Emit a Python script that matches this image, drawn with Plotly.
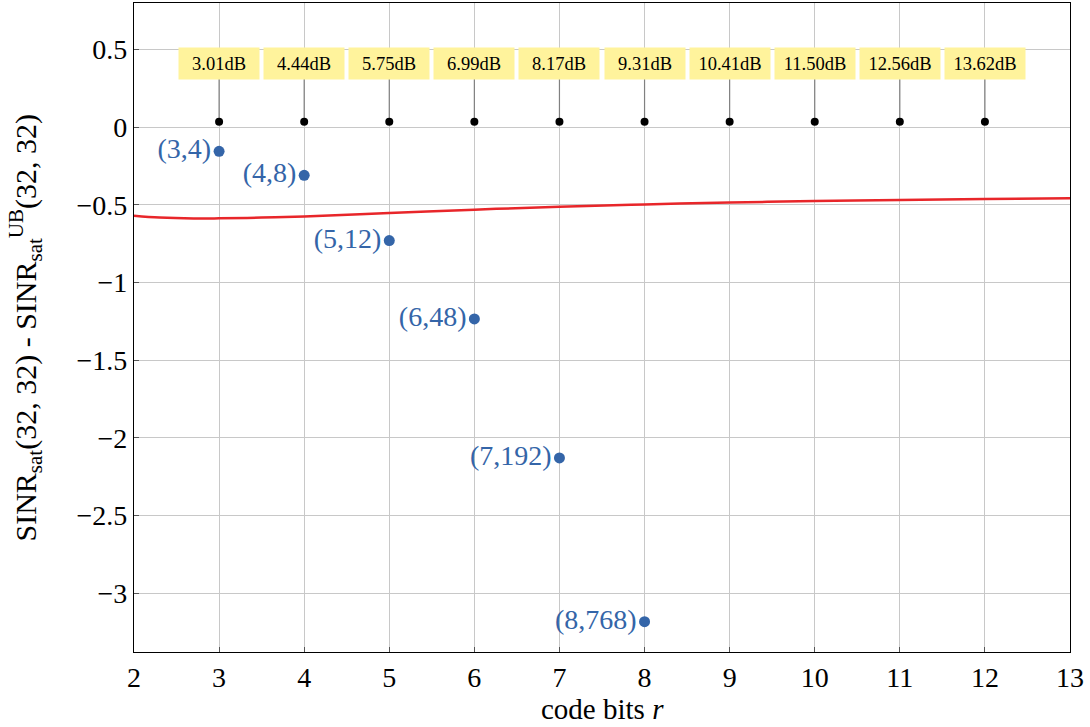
import plotly.graph_objects as go

# Data
pt_x = [3, 4, 5, 6, 7, 8]
pt_y = [-0.155, -0.31, -0.73, -1.235, -2.13, -3.185]
pt_labels = ["(3,4)", "(4,8)", "(5,12)", "(6,48)", "(7,192)", "(8,768)"]

curve_x = [2, 2.3, 2.7, 3, 3.5, 4, 5, 6, 7, 8, 9, 10, 11, 12, 13]
curve_y = [-0.570, -0.582, -0.588, -0.587, -0.582, -0.575, -0.553, -0.531, -0.512, -0.497, -0.485, -0.476, -0.469, -0.463, -0.458]

stem_x = [3, 4, 5, 6, 7, 8, 9, 10, 11, 12]
stem_labels = ["3.01dB", "4.44dB", "5.75dB", "6.99dB", "8.17dB", "9.31dB",
               "10.41dB", "11.50dB", "12.56dB", "13.62dB"]
stem_base = 0.035
stem_top = 0.41

y_tickvals = [0.5, 0, -0.5, -1, -1.5, -2, -2.5, -3]

x_title = "code bits <i>r</i>"
y_title = "SINR<sub>sat</sub>(32, 32) - SINR<sub>sat</sub><sup>UB</sup>(32, 32)"

FONT = "Liberation Serif"
BLUE = "#3465a8"

fig = go.Figure()

# stems
sx, sy = [], []
for x in stem_x:
    sx += [x, x, None]
    sy += [stem_base, stem_top, None]
fig.add_trace(go.Scatter(x=sx, y=sy, mode="lines",
                         line=dict(color="#808080", width=1.2),
                         showlegend=False, hoverinfo="skip"))
fig.add_trace(go.Scatter(x=stem_x, y=[stem_base] * len(stem_x), mode="markers",
                         marker=dict(color="black", size=8),
                         showlegend=False))

# red curve
fig.add_trace(go.Scatter(x=curve_x, y=curve_y, mode="lines",
                         line=dict(color="#e8262a", width=2.5, shape="spline"),
                         showlegend=False))

# blue points
fig.add_trace(go.Scatter(x=pt_x, y=pt_y, mode="markers+text",
                         marker=dict(color=BLUE, size=11),
                         text=pt_labels, textposition="middle left",
                         textfont=dict(family=FONT, size=28, color=BLUE),
                         showlegend=False))

for x, lab in zip(stem_x, stem_labels):
    fig.add_annotation(x=x, y=stem_top, text=lab, showarrow=False,
                       bgcolor="#fff39c", width=78, height=29,
                       font=dict(family=FONT, size=18.5, color="black"))

# axis titles
fig.add_annotation(x=0.5, y=0, xref="paper", yref="paper", text=x_title,
                   showarrow=False, yanchor="middle", yshift=-57,
                   font=dict(family=FONT, size=29, color="black"))
fig.add_annotation(x=0, y=0.5, xref="paper", yref="paper", text=y_title,
                   showarrow=False, textangle=-90, xanchor="center", xshift=-108,
                   font=dict(family=FONT, size=30, color="black"))

axis_common = dict(showgrid=True, gridcolor="#c8c8c8", gridwidth=1,
                   showline=True, linecolor="black", linewidth=1.2, mirror=True,
                   ticks="inside", ticklen=5, tickcolor="#555555",
                   zeroline=False,
                   tickfont=dict(family=FONT, size=28, color="black"))

fig.update_xaxes(range=[2, 13], dtick=1, tick0=2, **axis_common)

ticktext = [("\u2212" + f"{abs(v):g}") if v < 0 else f"{v:g}" for v in y_tickvals]
fig.update_yaxes(range=[-3.38, 0.8], tickmode="array", tickvals=y_tickvals, ticktext=ticktext,
                 **axis_common)

fig.update_layout(width=1090, height=727,
                  margin=dict(l=134, r=20, t=3, b=75),
                  plot_bgcolor="white", paper_bgcolor="white")

fig.write_html("out.html", config={"displayModeBar": False},
               post_script="document.body.style.margin='0';document.body.style.padding='0';")
